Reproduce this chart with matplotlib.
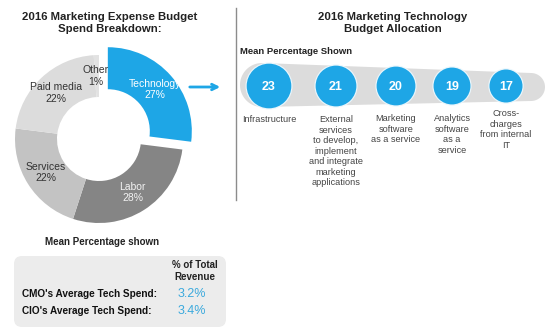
import numpy as np
import matplotlib
matplotlib.use('Agg')
import matplotlib.pyplot as plt
from matplotlib.patches import Circle, FancyBboxPatch, Polygon

# donut data
categories = ['Technology', 'Labor', 'Services', 'Paid media', 'Other']
shares = [27, 28, 22, 22, 1]

# technology allocation (mean percentage)
tech_values = [23, 21, 20, 19, 17]
tech_labels = ['Infrastructure',
               'External\nservices\nto develop,\nimplement\nand integrate\nmarketing\napplications',
               'Marketing\nsoftware\nas a service',
               'Analytics\nsoftware\nas a\nservice',
               'Cross-\ncharges\nfrom internal\nIT']

# revenue table
spend_rows = ["CMO's Average Tech Spend:", "CIO's Average Tech Spend:"]
spend_values = [3.2, 3.4]

BLUE = '#1ea6e6'
plt.rcParams['font.family'] = ['Liberation Sans', 'DejaVu Sans']

W, H = 555, 331
fig = plt.figure(figsize=(W / 100, H / 100), dpi=100)
ax = fig.add_axes([0, 0, 1, 1])
ax.set_xlim(0, W)
ax.set_ylim(H, 0)
ax.axis('off')

# ---- donut (own axes, centre ~ (99,139) px, radius 84 px)
cx, cy, r = 99, 139, 84
lim = 1.35
size = 2 * lim * r
pax = fig.add_axes([(cx - size / 2) / W, (H - cy - size / 2) / H, size / W, size / H])
colors = [BLUE, '#858585', '#c3c3c3', '#dcdcdc', '#e2e2e2']
explode = [0.14, 0, 0, 0, 0]
labels = [f'{c}\n{s}%' for c, s in zip(categories, shares)]
wedges, texts = pax.pie(shares, labels=labels, colors=colors, explode=explode,
                        startangle=90, counterclock=False, radius=1,
                        labeldistance=0.75,
                        wedgeprops=dict(width=0.5, linewidth=0))
pax.set_xlim(-lim, lim)
pax.set_ylim(-lim, lim)
pax.axis('off')
text_colors = ['white', '#f2f2f2', '#333333', '#333333', '#333333']
for t, c in zip(texts, text_colors):
    t.set_ha('center')
    t.set_va('center')
    t.set_color(c)
    t.set_fontsize(7.5)
    t.set_linespacing(1.15)
texts[4].set_x(texts[4].get_position()[0] - 0.02)

ax.text(110, 23, '2016 Marketing Expense Budget\nSpend Breakdown:', ha='center', va='center',
        fontsize=8.2, fontweight='bold', color='#222222', linespacing=1.35)

# arrow to right panel
ax.annotate('', xy=(223, 87), xytext=(187, 87),
            arrowprops=dict(arrowstyle='->', color=BLUE, lw=2, mutation_scale=10))

# separator
ax.plot([236, 236], [8, 200], color='#8c8c8c', lw=1)

# ---- right panel
ax.text(393, 23, '2016 Marketing Technology\nBudget Allocation', ha='center', va='center',
        fontsize=8.2, fontweight='bold', color='#222222', linespacing=1.35)
ax.text(240, 52, 'Mean Percentage Shown', ha='left', va='center',
        fontsize=6.8, fontweight='bold', color='#222222')

# tapered grey band behind circles
a1 = np.linspace(np.pi / 2, 3 * np.pi / 2, 40)
a2 = np.linspace(-np.pi / 2, np.pi / 2, 40)
band_x = np.concatenate([262 + 22 * np.cos(a1), 531 + 14 * np.cos(a2)])
band_y = np.concatenate([85 - 22 * np.sin(a1), 87 - 14 * np.sin(a2)])
ax.add_patch(Polygon(np.column_stack([band_x, band_y]), closed=True,
                     facecolor='#dcdcdc', edgecolor='none', zorder=1))

xs = [269, 336, 396, 452, 506]
label_top = [115, 115, 114, 114, 109]
for x, v, lab, ty in zip(xs, tech_values, tech_labels, label_top):
    rad = v * 0.97
    ax.add_patch(Circle((x, 86), rad + 1.2, facecolor='#e9f6fc', edgecolor='none', zorder=2))
    ax.add_patch(Circle((x, 86), rad, facecolor=BLUE, edgecolor='none', zorder=3))
    ax.text(x, 87, str(v), ha='center', va='center', color='white',
            fontsize=9, fontweight='bold', zorder=4)
    ax.text(x, ty, lab, ha='center', va='top', color='#444444',
            fontsize=6.6, linespacing=1.22)

# ---- bottom table
ax.text(102, 242, 'Mean Percentage shown', ha='center', va='center',
        fontsize=7, fontweight='bold', color='#222222')
ax.add_patch(FancyBboxPatch((14, 256), 212, 71, boxstyle='round,pad=0,rounding_size=8',
                            facecolor='#ececec', edgecolor='none'))
ax.text(195, 271, '% of Total\nRevenue', ha='center', va='center',
        fontsize=7, fontweight='bold', color='#222222', linespacing=1.2)
for i, (row, val) in enumerate(zip(spend_rows, spend_values)):
    y = 294 + i * 16.5
    ax.text(22, y, row, ha='left', va='center', fontsize=7.2, fontweight='bold', color='#111111')
    ax.text(192, y, f'{val}%', ha='center', va='center', fontsize=9, color='#3aa9dd')

fig.savefig('out.png', dpi=100)
